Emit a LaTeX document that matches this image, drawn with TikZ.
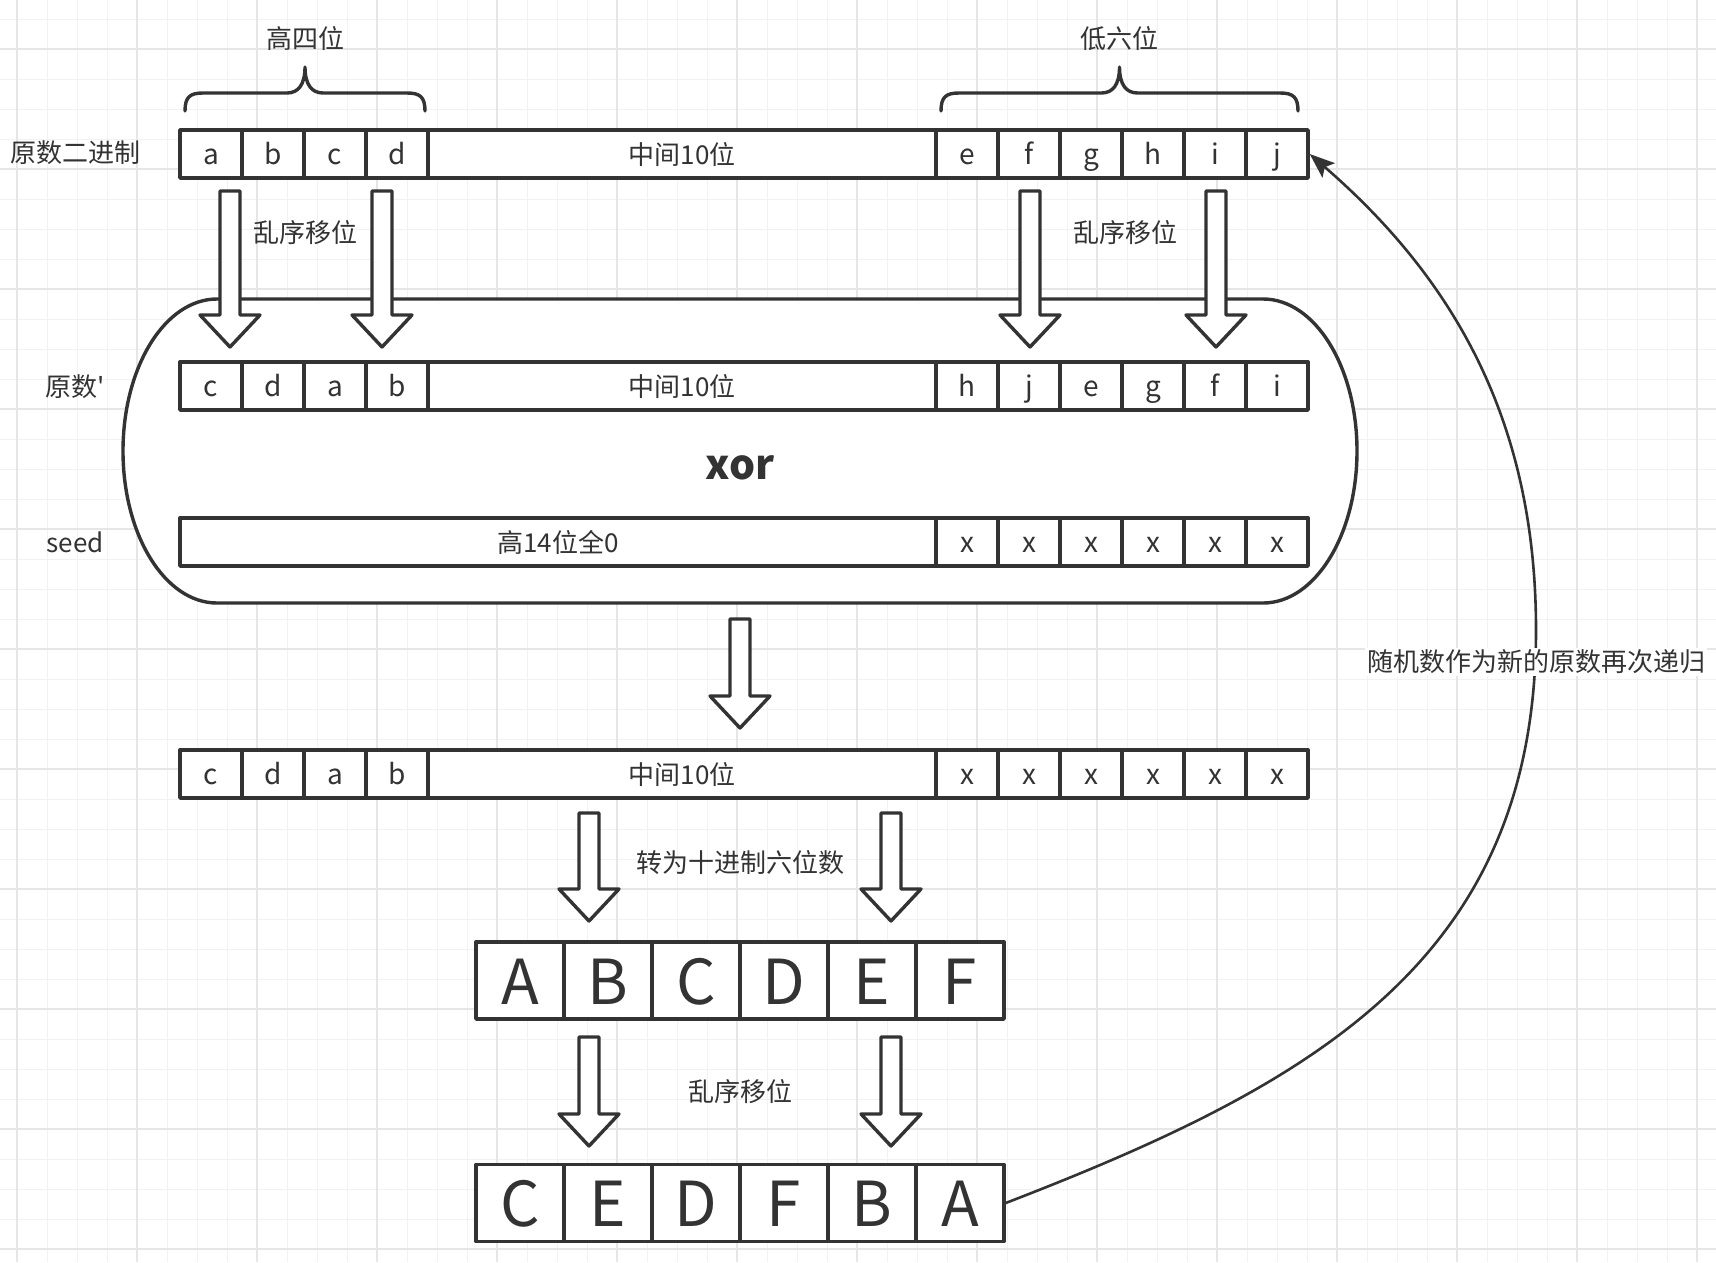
\documentclass[tikz,border=0pt]{standalone}
\usepackage{fontspec}
\setmainfont{Noto Sans CJK SC}
\usetikzlibrary{arrows.meta}
\definecolor{dgInk}{HTML}{333333}
\definecolor{dgGrid}{HTML}{F2F2F2}
\definecolor{dgGridMajor}{HTML}{E6E6E6}
\tikzset{
 chart/.style={line join=round,text=dgInk,font=\fontsize{26}{30}\selectfont},
 cell/.style={rectangle,draw=dgInk,fill=white,line width=3.4pt,inner sep=0pt,outer sep=1.7pt,
   minimum width=62pt,minimum height=48pt,text height=20pt,text depth=0pt,font=\fontsize{28}{32}\selectfont},
 widecell/.style={cell,minimum width=#1,font=\fontsize{26}{30}\selectfont},
 bigcell/.style={cell,minimum width=88pt,minimum height=77pt,text height=47pt,font=\fontsize{62}{70}\selectfont},
 note/.style={inner sep=0pt},
 hollow/.style={draw=dgInk,fill=white,line width=3.4pt,line join=round},
 brace/.style={draw=dgInk,line width=3.4pt,line cap=round},
 xorbox/.style={draw=dgInk,fill=white,line width=3.4pt},
 recur/.style={draw=dgInk,line width=2.6pt,-{Stealth[length=25pt,width=19pt,inset=5pt]}},
 gridminor/.style={draw=dgGrid,line width=1pt},
 gridmajor/.style={draw=dgGridMajor,line width=1.3pt}
}
\newcommand{\dnArrow}[3]{%
 \draw[hollow] ({#1-10},#2) -- ({#1+10},#2) -- ({#1+10},{#3-32}) -- ({#1+30},{#3-32})
   -- (#1,#3) -- ({#1-30},{#3-32}) -- ({#1-10},{#3-32}) -- cycle;}
\newcommand{\topBrace}[2]{%
 \draw[brace] (#1,111) .. controls (#1,97) and ({#1+5},93) .. ({#1+18},93)
   -- ({(#1+#2)/2-18},93) .. controls ({(#1+#2)/2-7},93) and ({(#1+#2)/2},85) .. ({(#1+#2)/2},67)
   .. controls ({(#1+#2)/2},85) and ({(#1+#2)/2+7},93) .. ({(#1+#2)/2+18},93)
   -- ({#2-18},93) .. controls ({#2-5},93) and (#2,97) .. (#2,111);}

\begin{document}
\begin{tikzpicture}[chart,x=1pt,y=-1pt]
 \useasboundingbox (0,0) rectangle (1716,1262);
 \fill[white] (0,0) rectangle (1716,1262);
 \foreach \gx in {17,47,...,1716} \draw[gridminor] (\gx,0) -- (\gx,1262);
 \foreach \gy in {19,49,...,1262} \draw[gridminor] (0,\gy) -- (1716,\gy);
 \foreach \gx in {17,137,...,1716} \draw[gridmajor] (\gx,0) -- (\gx,1262);
 \foreach \gy in {49,169,...,1262} \draw[gridmajor] (0,\gy) -- (1716,\gy);

 \topBrace{185}{425} \topBrace{941}{1298}
 \node[note] (hi4) at (305,39) {高四位};
 \node[note] (lo6) at (1119,39) {低六位};

 \node[note] (lbin) at (75,153) {原数二进制};
 \node[note] (lperm) at (75,387) {原数\textquotesingle};
 \node[note] (lseed) at (75,542) {seed};

 \draw[xorbox] (217,299) -- (1263,299) .. controls (1315,299) and (1357,367) .. (1357,451)
   .. controls (1357,535) and (1315,603) .. (1263,603) -- (217,603)
   .. controls (165,603) and (123,535) .. (123,451) .. controls (123,367) and (165,299) .. (217,299) -- cycle;
 \node[font=\bfseries\fontsize{41}{46}\selectfont,inner sep=0pt] (xor) at (740,468) {xor};

 \foreach \t [count=\i] in {a,b,c,d} \node[cell] (bin\i) at ({149+62*\i},154) {\t};
 \node[widecell=508pt] (binmid) at (682,154) {中间10位};
 \foreach \t [count=\i from 5] in {e,f,g,h,i,j} \node[cell] (bin\i) at ({657+62*\i},154) {\t};

 \dnArrow{230}{191}{347} \dnArrow{382}{191}{347}
 \dnArrow{1030}{191}{347} \dnArrow{1216}{191}{347}
 \node[note] (shufA) at (305,233) {乱序移位};
 \node[note] (shufB) at (1125,233) {乱序移位};

 \foreach \t [count=\i] in {c,d,a,b} \node[cell] (perm\i) at ({149+62*\i},386) {\t};
 \node[widecell=508pt] (permmid) at (682,386) {中间10位};
 \foreach \t [count=\i from 5] in {h,j,e,g,f,i} \node[cell] (perm\i) at ({657+62*\i},386) {\t};

 \node[widecell=756pt] (seedhi) at (558,542) {高14位全0};
 \foreach \i in {5,...,10} \node[cell] (seed\i) at ({657+62*\i},542) {x};

 \dnArrow{740}{619}{728}

 \foreach \t [count=\i] in {c,d,a,b} \node[cell] (res\i) at ({149+62*\i},774) {\t};
 \node[widecell=508pt] (resmid) at (682,774) {中间10位};
 \foreach \i in {5,...,10} \node[cell] (res\i) at ({657+62*\i},774) {x};

 \dnArrow{589}{813}{921} \dnArrow{891}{813}{921}
 \node[note] (todec) at (740,863) {转为十进制六位数};

 \foreach \t [count=\i] in {A,B,C,D,E,F} \node[bigcell] (dec\i) at ({432+88*\i},980.5) {\t};

 \dnArrow{589}{1037}{1146} \dnArrow{891}{1037}{1146}
 \node[note] (shufC) at (740,1092) {乱序移位};

 \foreach \t [count=\i] in {C,E,D,F,B,A} \node[bigcell] (out\i) at ({432+88*\i},1203) {\t};

 \draw[recur] (out6.east) .. controls (1314,1084) and (1536,960) .. (1536,630)
   .. controls (1536,430) and (1461,285) .. (bin10.east);
 \node[note,fill=white,inner sep=2pt] (again) at (1536,662) {随机数作为新的原数再次递归};
\end{tikzpicture}
\end{document}
